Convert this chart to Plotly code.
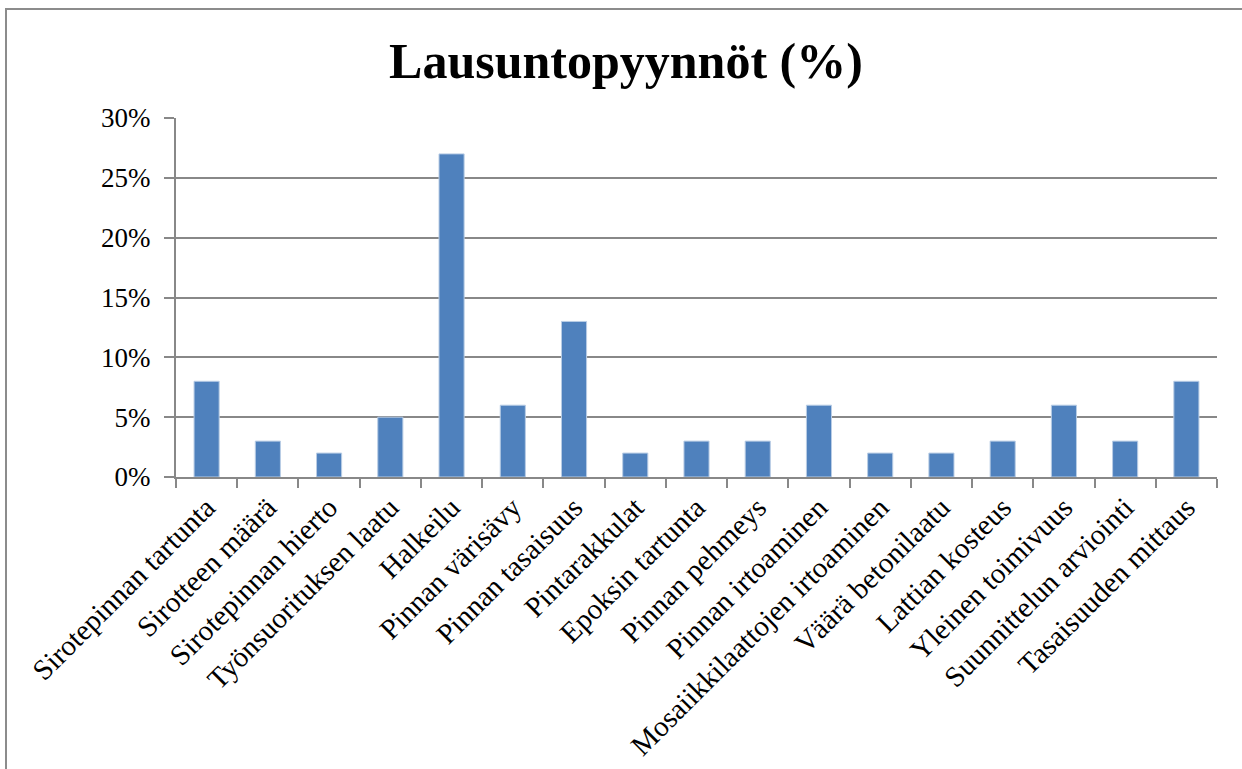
import plotly.graph_objects as go

categories = ["Sirotepinnan tartunta", "Sirotteen määrä", "Sirotepinnan hierto",
              "Työnsuorituksen laatu", "Halkeilu", "Pinnan värisävy", "Pinnan tasaisuus",
              "Pintarakkulat", "Epoksin tartunta", "Pinnan pehmeys", "Pinnan irtoaminen",
              "Mosaiikkilaattojen irtoaminen", "Väärä betonilaatu", "Lattian kosteus",
              "Yleinen toimivuus", "Suunnittelun arviointi", "Tasaisuuden mittaus"]
values = [0.08, 0.03, 0.02, 0.05, 0.27, 0.06, 0.13, 0.02, 0.03, 0.03, 0.06,
          0.02, 0.02, 0.03, 0.06, 0.03, 0.08]
y_ticks = [0, 0.05, 0.10, 0.15, 0.20, 0.25, 0.30]
y_tick_labels = ["0%", "5%", "10%", "15%", "20%", "25%", "30%"]
title = "Lausuntopyynnöt (%)"

W, H = 1242, 769
L, R, T, B = 176, 25, 118, 292
pw, ph = W - L - R, H - T - B

font = "Liberation Serif"
grid = "#888888"

fig = go.Figure(go.Bar(
    x=categories, y=values,
    marker=dict(color="#4F81BD", line=dict(color="#B9CDE5", width=1)),
    width=0.41,
))

fig.update_layout(
    width=W, height=H,
    margin=dict(l=L, r=R, t=T, b=B, autoexpand=False),
    paper_bgcolor="white", plot_bgcolor="white",
    showlegend=False,
    title=dict(text="<b>" + title + "</b>", x=626 / W, xanchor="center",
               y=1 - 60 / H, yanchor="middle",
               font=dict(family=font, size=50, color="black")),
    font=dict(family=font, color="black"),
)
fig.update_xaxes(
    type="category", tickangle=-45, tickfont=dict(size=29, family=font, color="black"),
    showline=True, linecolor=grid, linewidth=2,
    ticks="outside", tickson="boundaries", ticklen=9, tickcolor=grid, tickwidth=2,
    showgrid=False,
)
fig.update_yaxes(
    range=[0, 0.30], tickvals=y_ticks, ticktext=y_tick_labels,
    tickfont=dict(size=27, family=font, color="black"),
    showline=True, linecolor=grid, linewidth=2,
    ticks="outside", ticklen=10, tickcolor=grid, tickwidth=2, ticklabelstandoff=8,
    showgrid=True, gridcolor=grid, gridwidth=1.5, zeroline=False,
)

# outer frame of the chart object
fig.add_shape(type="rect", xref="paper", yref="paper",
              x0=(6 - L) / pw, x1=(1300 - L) / pw,
              y0=-(B + 50) / ph, y1=(T + ph - 9) / ph,
              line=dict(color="#8c8c8c", width=2), fillcolor="rgba(0,0,0,0)", layer="below")

fig.write_html("out.html", config={"displayModeBar": False},
               post_script="document.body.style.margin='0';")
